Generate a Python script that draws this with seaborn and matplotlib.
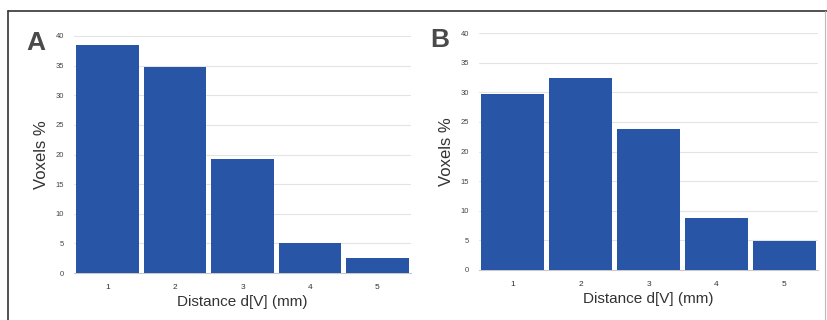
import matplotlib
matplotlib.use("Agg")
import matplotlib.pyplot as plt
import seaborn as sns
import pandas as pd
from matplotlib.lines import Line2D

distances = ["1", "2", "3", "4", "5"]
voxels_a = [38.5, 34.7, 19.3, 5.1, 2.6]
voxels_b = [29.7, 32.4, 23.8, 8.8, 4.9]
yticks = [0, 5, 10, 15, 20, 25, 30, 35, 40]
xlabel = "Distance d[V] (mm)"
ylabel = "Voxels %"
panels = ["A", "B"]

sns.set_style("white")
plt.rcParams["font.family"] = ["Liberation Sans", "DejaVu Sans"]

W, H = 827, 320
fig = plt.figure(figsize=(W / 100, H / 100), dpi=100)

bar_color = "#2855a6"

def px_axes(left, right, y0, y40):
    return [left / W, (H - y0) / H, (right - left) / W, (y0 - y40) / H]

specs = [
    (panels[0], voxels_a, px_axes(74, 411, 273, 36), (36, 43)),
    (panels[1], voxels_b, px_axes(479, 818, 270, 33), (440, 40)),
]

for letter, vals, rect, lpos in specs:
    ax = fig.add_axes(rect)
    df = pd.DataFrame({"d": distances, "v": vals})
    sns.barplot(data=df, x="d", y="v", color=bar_color, width=0.93,
                saturation=1, edgecolor="none", ax=ax, zorder=3)
    ax.set_xlim(-0.5, 4.5)
    ax.set_ylim(0, 40)
    ax.set_yticks(yticks)
    ax.yaxis.grid(True, color="#e4e4e4", linewidth=0.8, zorder=0)
    ax.set_axisbelow(True)
    for s in ["top", "right", "left"]:
        ax.spines[s].set_visible(False)
    ax.spines["bottom"].set_color("#c8c8c8")
    ax.spines["bottom"].set_linewidth(0.8)
    ax.tick_params(axis="y", length=0, pad=7, labelsize=5.5, labelcolor="#444444")
    ax.tick_params(axis="x", length=0, pad=8, labelsize=6, labelcolor="#333333")
    ax.set_xlabel(xlabel, fontsize=11, color="#333333", labelpad=3)
    ax.set_ylabel(ylabel, fontsize=12, color="#333333", labelpad=5)
    fig.text(lpos[0] / W, 1 - lpos[1] / H, letter, fontsize=19, fontweight="bold",
             color="#4a4a4a", ha="center", va="center")

# outer frame
fig.add_artist(Line2D([8 / W, 8 / W], [0, 1 - 11 / H], color="#333333", lw=1.2))
fig.add_artist(Line2D([8 / W, 1], [1 - 11 / H, 1 - 11 / H], color="#333333", lw=1.2))
fig.add_artist(Line2D([825 / W, 825 / W], [0, 1 - 11 / H], color="#bbbbbb", lw=0.8))

fig.savefig("out.png", dpi=100)
